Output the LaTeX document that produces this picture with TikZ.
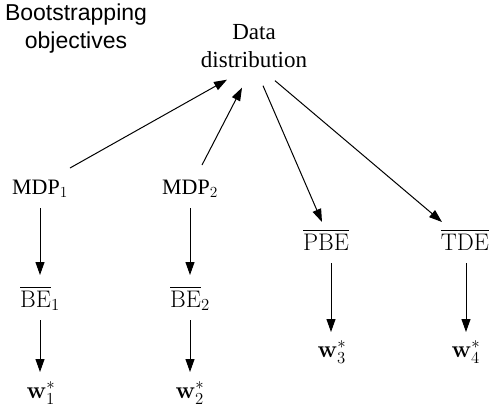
\RequirePackage{fix-cm}
\documentclass[tikz,border=0pt]{standalone}
\usepackage[no-math]{fontspec}
\usepackage{amsmath}
\setmainfont{Liberation Serif}
\newfontfamily\labelsans{Liberation Sans}
\usetikzlibrary{arrows.meta}
\begin{document}
\begin{tikzpicture}[x=1pt,y=-1pt,
  lbl/.style={inner sep=0pt,anchor=base,font=\fontsize{22}{26}\selectfont},
  mlbl/.style={inner sep=0pt,anchor=base,font=\fontsize{24}{28}\selectfont},
  arr/.style={line width=1pt,-{Triangle[length=13pt,width=9pt]}}]
\useasboundingbox (0,0) rectangle (501,413);
\node[inner sep=0pt,anchor=north,align=center,font=\labelsans\fontsize{23}{28}\selectfont] (boot) at (76,4) {Bootstrapping\\objectives};
\node[inner sep=0pt,anchor=north,align=center,font=\fontsize{23}{28}\selectfont] (data) at (254,24) {Data\\distribution};
\node[lbl] (mdp1) at (40,194) {MDP$_1$};
\node[lbl] (mdp2) at (190,194) {MDP$_2$};
\node[mlbl] (be1) at (40,307) {$\overline{\mathrm{BE}}_1$};
\node[mlbl] (be2) at (190,307) {$\overline{\mathrm{BE}}_2$};
\node[mlbl] (pbe) at (326,250) {$\overline{\mathrm{PBE}}$};
\node[mlbl] (tde) at (465,250) {$\overline{\mathrm{TDE}}$};
\node[mlbl] (w1) at (41,398) {$\mathbf{w}_1^*$};
\node[mlbl] (w2) at (190,398) {$\mathbf{w}_2^*$};
\node[mlbl] (w3) at (332,357) {$\mathbf{w}_3^*$};
\node[mlbl] (w4) at (466,357) {$\mathbf{w}_4^*$};
\draw[arr] ([shift={(30,-26)}]mdp1.base) -- ([shift={(-27,12)}]data.south);
\draw[arr] ([shift={(12,-29)}]mdp2.base) -- ([shift={(-12,20)}]data.south);
\draw[arr] ([shift={(9,18)}]data.south) -- ([shift={(-4,-28)}]pbe.base);
\draw[arr] ([shift={(21,13)}]data.south) -- ([shift={(-23,-28)}]tde.base);
\draw[arr] ([shift={(0,14)}]mdp1.base) -- ([shift={(0,-32)}]be1.base);
\draw[arr] ([shift={(0,13)}]be1.base) -- ([shift={(-1,-26)}]w1.base);
\draw[arr] ([shift={(0,14)}]mdp2.base) -- ([shift={(0,-32)}]be2.base);
\draw[arr] ([shift={(0,13)}]be2.base) -- ([shift={(0,-26)}]w2.base);
\draw[arr] ([shift={(5,13)}]pbe.base) -- ([shift={(-1,-25)}]w3.base);
\draw[arr] ([shift={(1,13)}]tde.base) -- ([shift={(0,-25)}]w4.base);
\end{tikzpicture}
\end{document}
